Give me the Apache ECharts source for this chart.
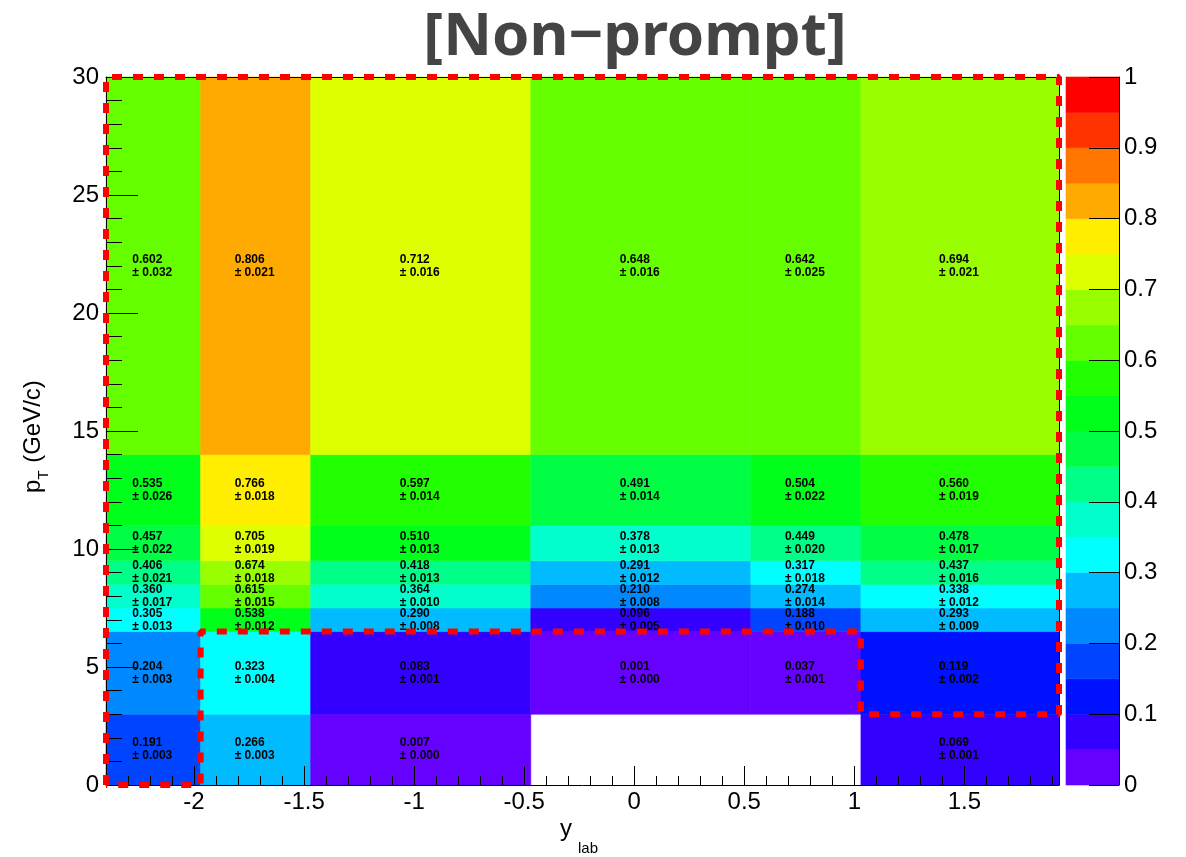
<!DOCTYPE html>
<html>
<head>
<meta charset="utf-8">
<script src="https://cdn.jsdelivr.net/npm/echarts@6/dist/echarts.min.js"></script>
<style>
html,body{margin:0;padding:0;background:#fff;}
#chart{width:1186px;height:857px;}
</style>
</head>
<body>
<div id="chart"></div>
<script>
// ---- data ----
const titleText = '[Non\u2212prompt]';
const xEdges = [-2.4, -1.97, -1.47, -0.47, 0.53, 1.03, 1.93];
const yEdges = [0, 3, 6.5, 7.5, 8.5, 9.5, 11, 14, 30];
// efficiency values, rows = pT bins from bottom (0-3) to top (14-30)
const effRows = [
  [0.191, 0.266, 0.007, null, null, 0.069],
  [0.204, 0.323, 0.083, 0.001, 0.037, 0.119],
  [0.305, 0.538, 0.290, 0.096, 0.188, 0.293],
  [0.360, 0.615, 0.364, 0.210, 0.274, 0.338],
  [0.406, 0.674, 0.418, 0.291, 0.317, 0.437],
  [0.457, 0.705, 0.510, 0.378, 0.449, 0.478],
  [0.535, 0.766, 0.597, 0.491, 0.504, 0.560],
  [0.602, 0.806, 0.712, 0.648, 0.642, 0.694]
];
const errRows = [
  [0.003, 0.003, 0.000, null, null, 0.001],
  [0.003, 0.004, 0.001, 0.000, 0.001, 0.002],
  [0.013, 0.012, 0.008, 0.005, 0.010, 0.009],
  [0.017, 0.015, 0.010, 0.008, 0.014, 0.012],
  [0.021, 0.018, 0.013, 0.012, 0.018, 0.016],
  [0.022, 0.019, 0.013, 0.013, 0.020, 0.017],
  [0.026, 0.018, 0.014, 0.014, 0.022, 0.019],
  [0.032, 0.021, 0.016, 0.016, 0.025, 0.021]
];
// acceptance boundary polygon (y_lab, pT)
const accBoundary = [[-2.4,0],[-2.4,30],[1.93,30],[1.93,3],[1.03,3],[1.03,6.5],[-1.97,6.5],[-1.97,0],[-2.4,0]];
const xMajorTicks = [-2, -1.5, -1, -0.5, 0, 0.5, 1, 1.5];
const zMin = 0, zMax = 1, zStep = 0.05;
const palette = ['#6600ff','#3300ff','#0011ff','#0044ff','#0088ff','#00bbff','#00ffff','#00ffcc','#00ff88','#00ff44',
                 '#00ff1a','#22ff00','#66ff00','#99ff00','#ddff00','#ffee00','#ffaa00','#ff7700','#ff3300','#ff0000'];

// ---- build ----
function colorOf(v){
  let i = Math.floor((v - zMin) / zStep + 1e-9);
  if (i < 0) i = 0; if (i >= palette.length) i = palette.length - 1;
  return palette[i];
}
const cells = [];
for (let r = 0; r < effRows.length; r++) {
  for (let c = 0; c < effRows[r].length; c++) {
    const v = effRows[r][c];
    if (v === null) continue;
    cells.push([xEdges[c], xEdges[c+1], yEdges[r], yEdges[r+1], v, errRows[r][c]]);
  }
}
const barCells = palette.map((col, i) => [zMin + i*zStep, zMin + (i+1)*zStep, i]);

const FONT = 'Liberation Sans';
const chart = echarts.init(document.getElementById('chart'), null, {renderer: 'canvas'});
const axisLineStyle = {color: '#000', width: 1};
chart.setOption({
  animation: false,
  backgroundColor: '#fff',
  grid: [
    {left: 106, top: 77, width: 953, height: 708, containLabel: false},
    {left: 1066, top: 77, width: 53, height: 708, containLabel: false}
  ],
  xAxis: [
    {gridIndex: 0, type: 'value', min: -2.4, max: 1.93, position: 'bottom', z: 10,
     axisLine: {show: true, onZero: false, lineStyle: axisLineStyle},
     axisTick: {show: true, inside: true, length: 19, customValues: xMajorTicks, lineStyle: axisLineStyle},
     axisLabel: {customValues: xMajorTicks, fontFamily: FONT, fontSize: 24, color: '#000', margin: 5},
     splitLine: {show: false}},
    {gridIndex: 0, type: 'value', min: -2.4, max: 1.93, interval: 0.1, position: 'bottom', z: 10,
     axisLine: {show: false}, axisLabel: {show: false}, splitLine: {show: false},
     axisTick: {show: true, inside: true, length: 9, lineStyle: axisLineStyle}},
    {gridIndex: 0, type: 'value', min: -2.4, max: 1.93, position: 'top', z: 10,
     axisLine: {show: true, onZero: false, lineStyle: axisLineStyle},
     axisTick: {show: false}, axisLabel: {show: false}, splitLine: {show: false}},
    {gridIndex: 1, type: 'value', min: 0, max: 1, show: false}
  ],
  yAxis: [
    {gridIndex: 0, type: 'value', min: 0, max: 30, interval: 5, position: 'left', z: 10,
     axisLine: {show: true, onZero: false, lineStyle: axisLineStyle},
     axisTick: {show: true, inside: true, length: 32, lineStyle: axisLineStyle},
     minorTick: {show: true, splitNumber: 5, length: 16, lineStyle: axisLineStyle},
     axisLabel: {fontFamily: FONT, fontSize: 24, color: '#000', margin: 7},
     splitLine: {show: false}, minorSplitLine: {show: false}},
    {gridIndex: 0, type: 'value', min: 0, max: 30, position: 'right', z: 10,
     axisLine: {show: true, onZero: false, lineStyle: axisLineStyle},
     axisTick: {show: false}, axisLabel: {show: false}, splitLine: {show: false}},
    {gridIndex: 1, type: 'value', min: zMin, max: zMax, interval: 0.1, position: 'right', z: 10,
     axisLine: {show: true, onZero: false, lineStyle: axisLineStyle},
     axisTick: {show: true, inside: true, length: 30, lineStyle: axisLineStyle},
     axisLabel: {fontFamily: FONT, fontSize: 24, color: '#000', margin: 5},
     splitLine: {show: false}}
  ],
  series: [
    {type: 'custom', xAxisIndex: 0, yAxisIndex: 0, z: 2,
     data: cells, encode: {x: [0, 1], y: [2, 3]},
     renderItem: function (params, api) {
       const p0 = api.coord([api.value(0), api.value(3)]);
       const p1 = api.coord([api.value(1), api.value(2)]);
       const v = api.value(4), e = api.value(5);
       const col = colorOf(v);
       const cx = (p0[0] + p1[0]) / 2, cy = (p0[1] + p1[1]) / 2;
       return {type: 'group', children: [
         {type: 'rect', z2: 0, shape: {x: p0[0], y: p0[1], width: p1[0]-p0[0], height: p1[1]-p0[1]},
          style: {fill: col, stroke: col, lineWidth: 0.6}},
         {type: 'text', z2: 10, x: cx - 21, y: cy,
          style: {text: v.toFixed(3) + '\n\u00b1 ' + e.toFixed(3), fill: '#000',
                  font: 'bold 12px "' + FONT + '"', align: 'left', verticalAlign: 'middle', lineHeight: 13}}
       ]};
     }},
    {type: 'line', xAxisIndex: 0, yAxisIndex: 0, z: 20, data: accBoundary,
     showSymbol: false, symbol: 'none', clip: false, silent: true,
     lineStyle: {color: '#ff0000', width: 6, type: [10, 11], cap: 'butt'}},
    {type: 'custom', xAxisIndex: 3, yAxisIndex: 2, z: 2,
     data: barCells, encode: {y: [0, 1]},
     renderItem: function (params, api) {
       const p0 = api.coord([0, api.value(1)]);
       const p1 = api.coord([1, api.value(0)]);
       const col = palette[api.value(2)];
       return {type: 'rect', shape: {x: p0[0], y: p0[1], width: p1[0]-p0[0], height: p1[1]-p0[1]},
               style: {fill: col, stroke: col, lineWidth: 0.6}};
     }}
  ],
  graphic: [
    {type: 'text', x: 635, y: 38, z: 100,
     style: {text: titleText, font: 'bold 60px "Noto Sans"', fill: '#444444', align: 'center', verticalAlign: 'middle'}},
    {type: 'text', x: 560, y: 829, z: 100,
     style: {text: 'y', font: '24px "' + FONT + '"', fill: '#000', align: 'left', verticalAlign: 'middle'}},
    {type: 'text', x: 578, y: 849, z: 100,
     style: {text: 'lab', font: '15px "' + FONT + '"', fill: '#000', align: 'left', verticalAlign: 'middle'}},
    {type: 'group', x: 33, y: 493, rotation: Math.PI / 2, z: 100, children: [
      {type: 'text', x: 0, y: 0, style: {text: 'p', font: '24px "' + FONT + '"', fill: '#000', align: 'left', verticalAlign: 'middle'}},
      {type: 'text', x: 13.5, y: 11, style: {text: 'T', font: '15px "' + FONT + '"', fill: '#000', align: 'left', verticalAlign: 'middle'}},
      {type: 'text', x: 23.5, y: 0, style: {text: ' (GeV/c)', font: '24px "' + FONT + '"', fill: '#000', align: 'left', verticalAlign: 'middle'}}
    ]}
  ]
});
</script>
</body>
</html>
